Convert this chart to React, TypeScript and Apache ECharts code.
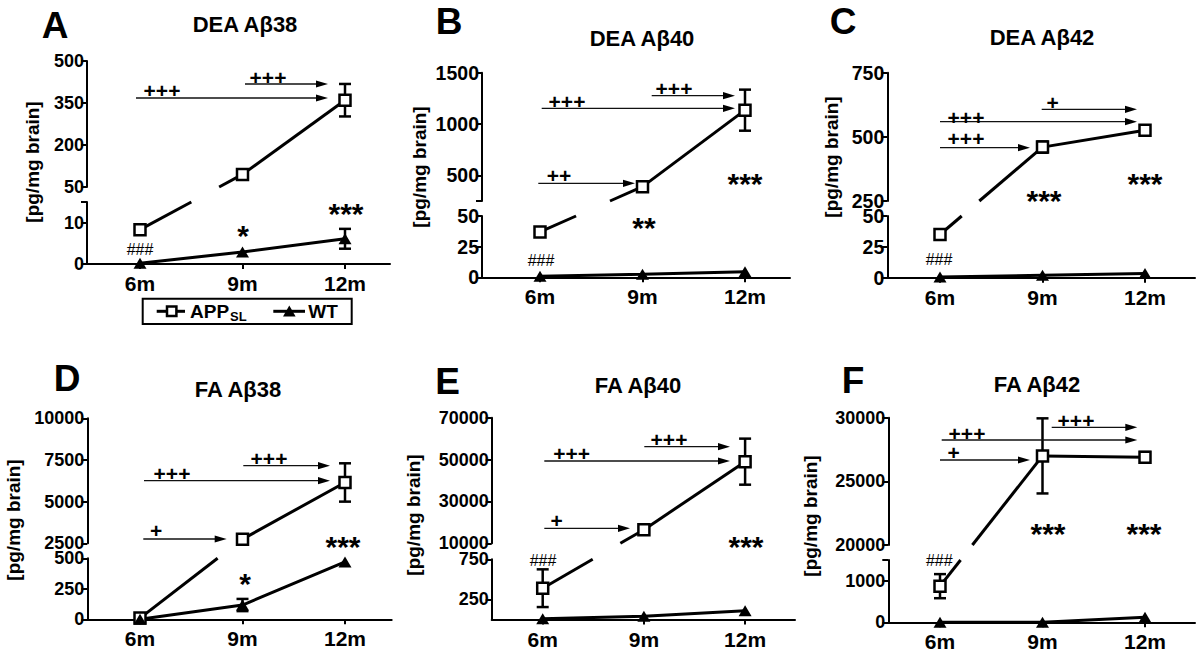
import React, { useEffect, useRef } from 'react';
import * as echarts from 'echarts';

const FONT = 'Arial, "Liberation Sans", Helvetica, sans-serif';

const categories = ['6m', '9m', '12m'];
const panelLetters = ['A', 'B', 'C', 'D', 'E', 'F'];
const panelTitles = ['DEA Aβ38', 'DEA Aβ40', 'DEA Aβ42', 'FA Aβ38', 'FA Aβ40', 'FA Aβ42'];
const yAxisName = '[pg/mg brain]';

// APP_SL and WT means / errors (pg/mg brain)
const appA = [8.3, 95, 360];
const appErrA = [0.3, 5, 58];
const wtA = [0.2, 2.9, 6.1];
const wtErrA = [0, 0, 2.4];

const appB = [37, 390, 1135];
const appErrB = [1.5, 45, 200];
const wtB = [0.8, 2.5, 4.6];
const wtErrB = [0, 0, 0];

const appC = [35, 460, 526];
const appErrC = [1.5, 22, 8];
const wtC = [0.5, 2, 3.5];
const wtErrC = [0, 0, 0];

const appD = [10, 2750, 6150];
const appErrD = [15, 280, 1150];
const wtD = [0, 117, 470];
const wtErrD = [0, 50, 0];

const appE = [390, 16500, 49000];
const appErrE = [235, 1500, 11000];
const wtE = [8, 40, 110];
const wtErrE = [0, 0, 0];

const appF = [870, 27000, 26900];
const appErrF = [290, 2950, 400];
const wtF = [0, 0, 120];
const wtErrF = [0, 0, 0];

// broken y axes
const upperRanges = [[50, 500], [250, 1500], [250, 750], [2500, 10000], [10000, 70000], [20000, 30000]];
const lowerRanges = [[0, 15], [0, 50], [0, 50], [0, 500], [0, 750], [0, 1500]];
const upperTicks = [[50, 200, 350, 500], [250, 500, 1000, 1500], [250, 500, 750], [2500, 5000, 7500, 10000], [10000, 30000, 50000, 70000], [20000, 25000, 30000]];
const upperTickLabels = [[50, 200, 350, 500], [500, 1000, 1500], [250, 500, 750], [2500, 5000, 7500, 10000], [10000, 30000, 50000, 70000], [20000, 25000, 30000]];
const lowerTicks = [[0, 10, 15], [0, 25, 50], [0, 25, 50], [0, 250, 500], [250, 750], [0, 1000, 1500]];
const lowerTickLabels = [[0, 10], [0, 25, 50], [0, 25, 50], [0, 250, 500], [250, 750], [0, 1000]];

// significance marks
const annotA = [
  { kind: 'arrow', x1: 136, x2: 328, y: 98, text: '+++', tx: 162, ty: 90 },
  { kind: 'arrow', x1: 245, x2: 328, y: 84, text: '+++', tx: 268, ty: 77 },
  { kind: 'star', text: '***', x: 346, y: 207 },
  { kind: 'star', text: '*', x: 243, y: 229 },
  { kind: 'hash', text: '###', x: 140, y: 249 },
];
const annotB = [
  { kind: 'arrow', x1: 541.7, x2: 735, y: 108.3, text: '+++', tx: 567, ty: 101 },
  { kind: 'arrow', x1: 651.7, x2: 735, y: 95.7, text: '+++', tx: 674, ty: 88 },
  { kind: 'arrow', x1: 538.3, x2: 635, y: 183.3, text: '++', tx: 559, ty: 175.5 },
  { kind: 'star', text: '***', x: 745, y: 177 },
  { kind: 'star', text: '**', x: 644, y: 221 },
  { kind: 'hash', text: '###', x: 541, y: 260 },
];
const annotC = [
  { kind: 'arrow', x1: 1041.7, x2: 1137, y: 109.3, text: '+', tx: 1052.5, ty: 102 },
  { kind: 'arrow', x1: 940, x2: 1137, y: 121.7, text: '+++', tx: 966, ty: 117 },
  { kind: 'arrow', x1: 940, x2: 1030, y: 147.7, text: '+++', tx: 966, ty: 138 },
  { kind: 'star', text: '***', x: 1044, y: 194 },
  { kind: 'star', text: '***', x: 1145, y: 177 },
  { kind: 'hash', text: '###', x: 939, y: 259 },
];
const annotD = [
  { kind: 'arrow', x1: 144, x2: 330, y: 480.7, text: '+++', tx: 172, ty: 473 },
  { kind: 'arrow', x1: 243.3, x2: 330, y: 465.7, text: '+++', tx: 269, ty: 458 },
  { kind: 'arrow', x1: 143.3, x2: 226.7, y: 539, text: '+', tx: 156, ty: 530 },
  { kind: 'star', text: '***', x: 343, y: 540 },
  { kind: 'star', text: '*', x: 245, y: 577 },
];
const annotE = [
  { kind: 'arrow', x1: 544.3, x2: 730, y: 461, text: '+++', tx: 571.7, ty: 453 },
  { kind: 'arrow', x1: 644.3, x2: 730, y: 446.7, text: '+++', tx: 669, ty: 439 },
  { kind: 'arrow', x1: 544.3, x2: 630, y: 528.3, text: '+', tx: 556.7, ty: 520 },
  { kind: 'star', text: '***', x: 746, y: 540 },
  { kind: 'hash', text: '###', x: 543, y: 560 },
];
const annotF = [
  { kind: 'arrow', x1: 1051.7, x2: 1137.3, y: 427.3, text: '+++', tx: 1076, ty: 420 },
  { kind: 'arrow', x1: 941.7, x2: 1137.3, y: 440, text: '+++', tx: 967, ty: 433 },
  { kind: 'arrow', x1: 940, x2: 1030, y: 460, text: '+', tx: 953.7, ty: 452 },
  { kind: 'star', text: '***', x: 1048, y: 527 },
  { kind: 'star', text: '***', x: 1144, y: 527 },
  { kind: 'hash', text: '###', x: 939.3, y: 560 },
];

const panelData = [
  { app: appA, appErr: appErrA, wt: wtA, wtErr: wtErrA, annot: annotA },
  { app: appB, appErr: appErrB, wt: wtB, wtErr: wtErrB, annot: annotB },
  { app: appC, appErr: appErrC, wt: wtC, wtErr: wtErrC, annot: annotC },
  { app: appD, appErr: appErrD, wt: wtD, wtErr: wtErrD, annot: annotD },
  { app: appE, appErr: appErrE, wt: wtE, wtErr: wtErrE, annot: annotE },
  { app: appF, appErr: appErrF, wt: wtF, wtErr: wtErrF, annot: annotF },
];

// pixel layout of each panel
const layout = [
  { L: 87, R: 390, c0: 140, d: 102.5, upTop: 61, upBot: 187, loTop: 202, loBot: 264, tickFont: 18, letter: [55, 25], title: [245, 24], yName: [32, 162] },
  { L: 482, R: 790, c0: 540, d: 102.5, upTop: 72.7, upBot: 201, loTop: 216, loBot: 277.3, tickFont: 19.5, letter: [449, 21], title: [642, 38], yName: [419, 167] },
  { L: 887.3, R: 1195, c0: 940, d: 102.5, upTop: 72.7, upBot: 201, loTop: 216, loBot: 277.7, tickFont: 19.5, letter: [843, 21], title: [1042, 37], yName: [831, 157] },
  { L: 87.3, R: 391.7, c0: 140, d: 102.5, upTop: 418.3, upBot: 543.3, loTop: 558.3, loBot: 619.3, tickFont: 18, letter: [67, 378], title: [238, 389], yName: [13, 520] },
  { L: 491.7, R: 795, c0: 542.7, d: 101.2, upTop: 417.7, upBot: 543.3, loTop: 559.3, loBot: 619.5, tickFont: 18, letter: [447.5, 381], title: [638, 385], yName: [413, 515] },
  { L: 888.3, R: 1195, c0: 940, d: 102.5, upTop: 417.7, upBot: 545, loTop: 560, loBot: 622.3, tickFont: 18, letter: [853, 380], title: [1037, 384], yName: [810, 516] },
];

const txt = (x: number, y: number, text: string, size: number, weight = 'bold', extra: any = {}, align = 'center') => ({
  type: 'text',
  x,
  y,
  z: 5,
  style: {
    text,
    fontSize: size,
    fontWeight: weight,
    fontFamily: FONT,
    fill: '#000',
    align,
    verticalAlign: 'middle',
    textAlign: align,
    textVerticalAlign: 'middle',
  },
  ...extra,
});

const errorBarRender = (params: any, api: any) => {
  const x = api.value(0);
  const m = api.value(1);
  const e = api.value(2);
  const top = api.coord([x, m + e]);
  const bot = api.coord([x, m - e]);
  const hw = 6;
  const st = { stroke: '#000', lineWidth: 2.5 };
  return {
    type: 'group',
    children: [
      { type: 'line', shape: { x1: top[0], y1: top[1], x2: bot[0], y2: bot[1] }, style: st },
      { type: 'line', shape: { x1: top[0] - hw, y1: top[1], x2: top[0] + hw, y2: top[1] }, style: st },
      { type: 'line', shape: { x1: bot[0] - hw, y1: bot[1], x2: bot[0] + hw, y2: bot[1] }, style: st },
    ],
  };
};

export default function App() {
  const ref = useRef<HTMLDivElement>(null);

  useEffect(() => {
    if (!ref.current) return;
    const chart = echarts.init(ref.current, null, { renderer: 'svg' });

    const grids: any[] = [];
    const xAxes: any[] = [];
    const yAxes: any[] = [];
    const series: any[] = [];

    layout.forEach((lay, pi) => {
      const xMin = (lay.L - lay.c0) / lay.d;
      const xMax = (lay.R - lay.c0) / lay.d;
      const segs = [
        { top: lay.upTop, bot: lay.upBot, range: upperRanges[pi], ticks: upperTicks[pi], labels: upperTickLabels[pi], showX: false },
        { top: lay.loTop, bot: lay.loBot, range: lowerRanges[pi], ticks: lowerTicks[pi], labels: lowerTickLabels[pi], showX: true },
      ];
      segs.forEach((s) => {
        grids.push({ left: lay.L, top: s.top, width: lay.R - lay.L, height: s.bot - s.top, containLabel: false });
        const gi = grids.length - 1;
        xAxes.push({
          type: 'value',
          gridIndex: gi,
          min: xMin,
          max: xMax,
          show: s.showX,
          axisLine: { show: true, onZero: false, lineStyle: { color: '#000', width: 2 } },
          axisTick: { show: true, customValues: [0, 1, 2], length: 5, lineStyle: { color: '#000', width: 2 } },
          axisLabel: {
            customValues: [0, 1, 2],
            formatter: (v: number) => categories[Math.round(v)] ?? '',
            fontSize: 21,
            fontWeight: 'bold',
            fontFamily: FONT,
            color: '#000',
            margin: 9,
          },
          splitLine: { show: false },
        });
        yAxes.push({
          type: 'value',
          gridIndex: gi,
          min: s.range[0],
          max: s.range[1],
          axisLine: { show: true, onZero: false, lineStyle: { color: '#000', width: 2 } },
          axisTick: { show: true, customValues: s.ticks, length: 6, lineStyle: { color: '#000', width: 2 } },
          axisLabel: {
            customValues: s.labels,
            formatter: (v: number) => String(v),
            fontSize: lay.tickFont,
            lineHeight: 13,
            fontWeight: 'bold',
            fontFamily: FONT,
            color: '#000',
            margin: 3,
          },
          splitLine: { show: false },
        });
      });

      const upIdx = pi * 2;
      const loIdx = pi * 2 + 1;
      const loMax = lowerRanges[pi][1];
      const p = panelData[pi];
      const groups = [
        { name: 'APP_SL', mean: p.app, err: p.appErr, symbol: 'rect', size: 11, item: { color: '#fff', borderColor: '#000', borderWidth: 2.5 } },
        { name: 'WT', mean: p.wt, err: p.wtErr, symbol: 'triangle', size: [13, 11], item: { color: '#000', borderColor: '#000', borderWidth: 0 } },
      ];
      groups.forEach((g) => {
        const segDefs: [number, (v: number) => boolean][] = [
          [upIdx, (v) => v > loMax],
          [loIdx, (v) => v <= loMax],
        ];
        segDefs.forEach(([gIdx, inSeg]) => {
          if (!g.mean.some(inSeg)) return;
          const data = g.mean.map((v, i) => (inSeg(v) ? [i, v] : [i, '-']));
          series.push({
            type: 'line',
            name: g.name,
            xAxisIndex: gIdx,
            yAxisIndex: gIdx,
            data,
            symbol: g.symbol,
            symbolSize: g.size,
            showSymbol: true,
            connectNulls: false,
            lineStyle: { color: '#000', width: 3 },
            itemStyle: g.item,
            z: 4,
          });
          const errData = g.mean.map((v, i) => [i, v, g.err[i]]).filter((d) => inSeg(d[1]) && d[2] > 0);
          if (errData.length) {
            series.push({
              type: 'custom',
              xAxisIndex: gIdx,
              yAxisIndex: gIdx,
              data: errData,
              renderItem: errorBarRender,
              z: 3,
            });
          }
        });
      });
    });

    chart.setOption({
      animation: false,
      backgroundColor: '#fff',
      grid: grids,
      xAxis: xAxes,
      yAxis: yAxes,
      series,
    });

    // graphics: connectors across the axis break, annotations, titles, legend
    const els: any[] = [];
    layout.forEach((lay, pi) => {
      const upIdx = pi * 2;
      const loIdx = pi * 2 + 1;
      const loMax = lowerRanges[pi][1];
      const upMin = upperRanges[pi][0];
      const p = panelData[pi];
      [p.app, p.wt].forEach((mean) => {
        for (let i = 0; i < mean.length - 1; i++) {
          const aUp = mean[i] > loMax;
          const bUp = mean[i + 1] > loMax;
          if (aUp === bUp) continue;
          const pa = chart.convertToPixel({ gridIndex: aUp ? upIdx : loIdx }, [i, mean[i]]) as number[];
          const pb = chart.convertToPixel({ gridIndex: bUp ? upIdx : loIdx }, [i + 1, mean[i + 1]]) as number[];
          const lo = aUp ? pb : pa;
          const hi = aUp ? pa : pb;
          const loTopPx = (chart.convertToPixel({ gridIndex: loIdx }, [i, loMax]) as number[])[1];
          const upBotPx = (chart.convertToPixel({ gridIndex: upIdx }, [i, upMin]) as number[])[1];
          const t1 = (lo[1] - loTopPx) / (lo[1] - hi[1]);
          const t2 = (lo[1] - upBotPx) / (lo[1] - hi[1]);
          const st = { stroke: '#000', lineWidth: 3 };
          els.push({ type: 'line', z: 1, shape: { x1: lo[0], y1: lo[1], x2: lo[0] + (hi[0] - lo[0]) * t1, y2: loTopPx }, style: st });
          els.push({ type: 'line', z: 1, shape: { x1: lo[0] + (hi[0] - lo[0]) * t2, y1: upBotPx, x2: hi[0], y2: hi[1] }, style: st });
        }
      });

      els.push(txt(lay.letter[0], lay.letter[1], panelLetters[pi], 37));
      els.push(txt(lay.title[0], lay.title[1], panelTitles[pi], 22));
      els.push(txt(lay.yName[0], lay.yName[1], yAxisName, 19, 'bold', { rotation: Math.PI / 2 }));

      p.annot.forEach((a: any) => {
        if (a.kind === 'arrow') {
          els.push({ type: 'line', z: 5, shape: { x1: a.x1, y1: a.y, x2: a.x2 - 10, y2: a.y }, style: { stroke: '#111', lineWidth: 1.3 } });
          els.push({ type: 'polygon', z: 5, shape: { points: [[a.x2 - 12, a.y - 3.6], [a.x2, a.y], [a.x2 - 12, a.y + 3.6]] }, style: { fill: '#000' } });
          els.push(txt(a.tx, a.ty, a.text, 21));
        } else if (a.kind === 'star') {
          els.push(txt(a.x, a.y + 6, a.text, 30));
        } else {
          els.push(txt(a.x, a.y, a.text, 16, 'normal'));
        }
      });
    });

    // legend
    els.push({ type: 'rect', z: 5, shape: { x: 142.7, y: 298.7, width: 209, height: 25.3 }, style: { fill: '#fff', stroke: '#000', lineWidth: 2 } });
    els.push({ type: 'line', z: 6, shape: { x1: 156.7, y1: 311.3, x2: 185, y2: 311.3 }, style: { stroke: '#000', lineWidth: 3 } });
    els.push({ type: 'rect', z: 7, shape: { x: 167, y: 306.6, width: 9.4, height: 9.4 }, style: { fill: '#fff', stroke: '#000', lineWidth: 2.5 } });
    els.push(txt(190, 311.3, 'APP', 19, 'bold', {}, 'left'));
    els.push(txt(230, 316.5, 'SL', 13, 'bold', {}, 'left'));
    els.push({ type: 'line', z: 6, shape: { x1: 273.3, y1: 311.3, x2: 305, y2: 311.3 }, style: { stroke: '#000', lineWidth: 3 } });
    els.push({ type: 'polygon', z: 7, shape: { points: [[283, 316.5], [289.3, 305.5], [295.6, 316.5]] }, style: { fill: '#000' } });
    els.push(txt(308.3, 311.3, 'WT', 19, 'bold', {}, 'left'));

    chart.setOption({ graphic: { elements: els } });

    return () => {
      chart.dispose();
    };
  }, []);

  return (
    <div
      ref={ref}
      style={{ position: 'fixed', left: 0, top: 0, width: 1200, height: 655, background: '#fff' }}
    />
  );
}
